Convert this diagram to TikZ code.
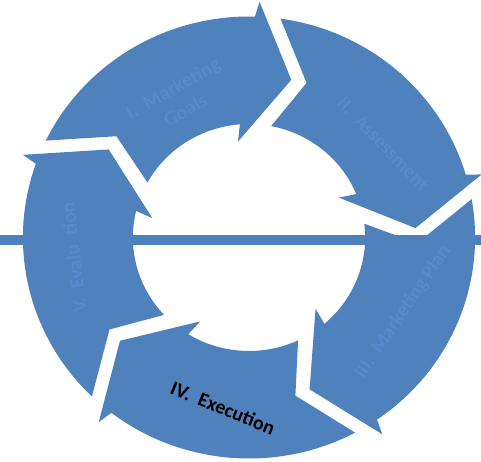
\documentclass[tikz,border=0pt]{standalone}
\usepackage{fontspec}
\setmainfont{Carlito}
\definecolor{cycleblue}{RGB}{79,129,189}
\definecolor{labelblue}{RGB}{89,139,204}
\begin{document}
\begin{tikzpicture}[x=1pt,y=1pt,
  segment/.style={fill=cycleblue},
  steplabel/.style={font=\fontsize{20}{25}\selectfont\bfseries, text=labelblue, inner sep=0pt, align=center},
]
\useasboundingbox (0,0) rectangle (481,462);
% five curved arrows, each a copy of the first turned by 72 degrees
\begin{scope}[shift={(249,224.5)}, xscale=1.023]
  \foreach \k in {0,...,4}{
    \begin{scope}[rotate={-72*\k}]
      \fill[segment] (154:221pt) arc[start angle=154, end angle=88.5, radius=221pt]
        -- (87.5:236pt) -- (75.3:163pt) -- (96.4:96.5pt) -- (94.5:113.5pt)
        arc[start angle=94.5, end angle=151, radius=113.5pt]
        -- (142:164.5pt) -- cycle;
    \end{scope}
  }
\end{scope}
% step labels
\node[steplabel, rotate=29.5] (goals) at (179,363) {I.\ \ Marketing\\Goals};
\node[steplabel, rotate=-46] (assess) at (383,318) {II.\ \ Assessment};
\node[steplabel, rotate=56] (plan) at (403,150) {III.\ \ Marketing Plan};
\node[steplabel, rotate=-22, text=black] (exec) at (223,54) {IV.\ \ Execution};
\node[steplabel, rotate=96.5] (eval) at (73.5,204.5) {V.\ \ Evaluation};
% horizontal bar across the cycle
\fill[cycleblue] (0,217) rectangle (481,227);
\end{tikzpicture}
\end{document}
